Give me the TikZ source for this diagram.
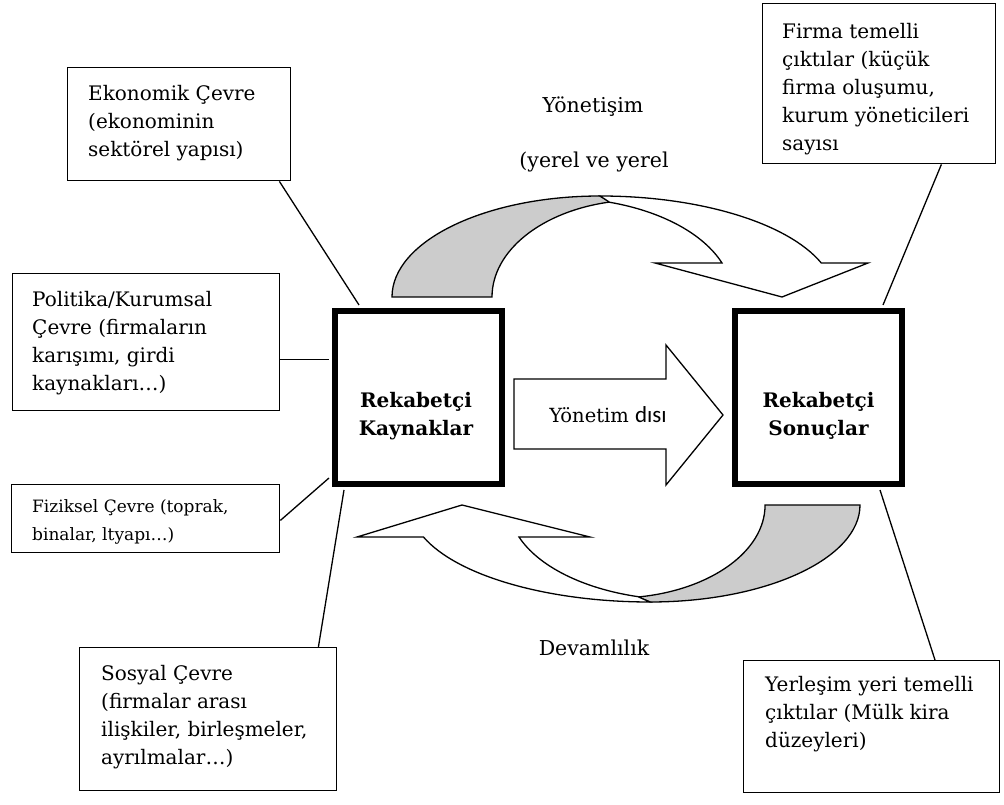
\documentclass[tikz,border=0pt]{standalone}
\usepackage{fontspec}
\setmainfont{DejaVu Serif}
\newfontfamily\sansdisi{Carlito}
\usetikzlibrary{calc}
\definecolor{band}{RGB}{204,204,204}
\begin{document}
\begin{tikzpicture}[x=1pt,y=1pt,
  tbox/.style={draw=black, line width=1.4pt, fill=white, anchor=north west, inner sep=0pt},
  txt/.style={anchor=north west, align=left, inner sep=0pt, font=\fontsize{20}{28}\selectfont},
  smalltxt/.style={anchor=north west, align=left, inner sep=0pt, font=\fontsize{17}{28}\selectfont},
  label/.style={inner sep=0pt, font=\fontsize{20.5}{28}\selectfont},
  bigbox/.style={draw=black, line width=6pt, inner sep=0pt, minimum width=167, minimum height=173},
  boldtxt/.style={inner sep=0pt, align=center, font=\fontsize{20}{28}\selectfont\bfseries},
  conn/.style={draw=black, line width=1.3pt},
  outline/.style={draw=black, line width=1.3pt, line join=miter}]
\useasboundingbox (0,0) rectangle (1004,804);

% ---------- top curved arrow (Yonetisim) ----------
\path[outline, fill=band] (392,507) arc[start angle=180, end angle=90, x radius=208, y radius=101]
  -- (610,602) arc[start angle=101.7, end angle=180, x radius=148, y radius=97] -- cycle;
\path[outline, fill=white] (600,608) arc[start angle=90, end angle=19.7, x radius=235, y radius=101]
  -- (868,541) -- (782,507) -- (655,541) -- (722,541)
  arc[start angle=20.1, end angle=73.2, x radius=173, y radius=99] -- cycle;

% ---------- bottom curved arrow (Devamlilik) ----------
\path[outline, fill=band] (860,299) arc[start angle=0, end angle=-90, x radius=210, y radius=97]
  -- (638,207) arc[start angle=-81.2, end angle=0, x radius=150, y radius=93] -- cycle;
\path[outline, fill=white] (650,202) arc[start angle=270, end angle=199.3, x radius=240, y radius=97]
  -- (357,267) -- (462,299) -- (590,267) -- (519,267)
  arc[start angle=199.7, end angle=254.8, x radius=175, y radius=95] -- cycle;

% ---------- middle arrow ----------
\path[outline, fill=white] (514,425) -- (666,425) -- (666,459) -- (723,389) -- (666,319) -- (666,355) -- (514,355) -- cycle;
\node[inner sep=0pt, font=\fontsize{19.5}{24}\selectfont] (ydisi) at (608,389) {Yönetim {\sansdisi\fontsize{23}{24}\selectfont dısı}};

% ---------- central boxes ----------
\node[bigbox] (kay) at (418.5,406.5) {};
\node[boldtxt] (kayt) at (416,388) {Rekabetçi\\Kaynaklar};
\node[bigbox] (son) at (818.5,406.5) {};
\node[boldtxt] (sont) at (818.5,388) {Rekabetçi\\Sonuçlar};

% ---------- text boxes ----------
\node[tbox, minimum width=223, minimum height=113] (eko) at (67,737) {};
\node[txt] (ekot) at ($(eko.north west)+(21,-18)$) {Ekonomik Çevre\\(ekonominin\\sektörel yapısı)};

\node[tbox, minimum width=267, minimum height=137] (pol) at (12,531) {};
\node[txt] (polt) at ($(pol.north west)+(20,-18)$) {Politika/Kurumsal\\Çevre (firmaların\\karışımı, girdi\\kaynakları…)};

\node[tbox, minimum width=268, minimum height=68] (fiz) at (11,320) {};
\node[smalltxt] (fizt) at ($(fiz.north west)+(21,-15)$) {Fiziksel Çevre (toprak,\\binalar, ltyapı…)};

\node[tbox, minimum width=257, minimum height=143] (sos) at (79,157) {};
\node[txt] (sost) at ($(sos.north west)+(22,-18)$) {Sosyal Çevre\\(firmalar arası\\ilişkiler, birleşmeler,\\ayrılmalar…)};

\node[tbox, minimum width=233, minimum height=160] (fir) at (762,801) {};
\node[txt] (firt) at ($(fir.north west)+(20,-20)$) {Firma temelli\\çıktılar (küçük\\firma oluşumu,\\kurum yöneticileri\\sayısı};

\node[tbox, minimum width=256, minimum height=132] (yer) at (743,144) {};
\node[txt] (yert) at ($(yer.north west)+(22,-16)$) {Yerleşim yeri temelli\\çıktılar (Mülk kira\\düzeyleri)};

% ---------- free labels ----------
\node[label] (yon) at (593,697) {Yönetişim};
\node[label] (yer2) at (594,642) {(yerel ve yerel};
\node[label] (dev) at (594,156) {Devamlılık};

% ---------- connectors ----------
\draw[conn] ([xshift=-12]eko.south east) -- ([xshift=27,yshift=3]kay.north west);
\draw[conn] ([yshift=52]pol.south east) -- ([xshift=-3,yshift=52]kay.south west |- pol.south east);
\draw[conn] ([yshift=33]fiz.south east) -- ([xshift=-3,yshift=9]kay.south west);
\draw[conn] ([xshift=-19]sos.north east) -- ([xshift=12,yshift=-3]kay.south west);
\draw[conn] ([xshift=-55]fir.south east) -- ([xshift=-22,yshift=3]son.north east);
\draw[conn] ([xshift=192]yer.north west) -- ([xshift=-25,yshift=-3]son.south east);
\end{tikzpicture}
\end{document}
